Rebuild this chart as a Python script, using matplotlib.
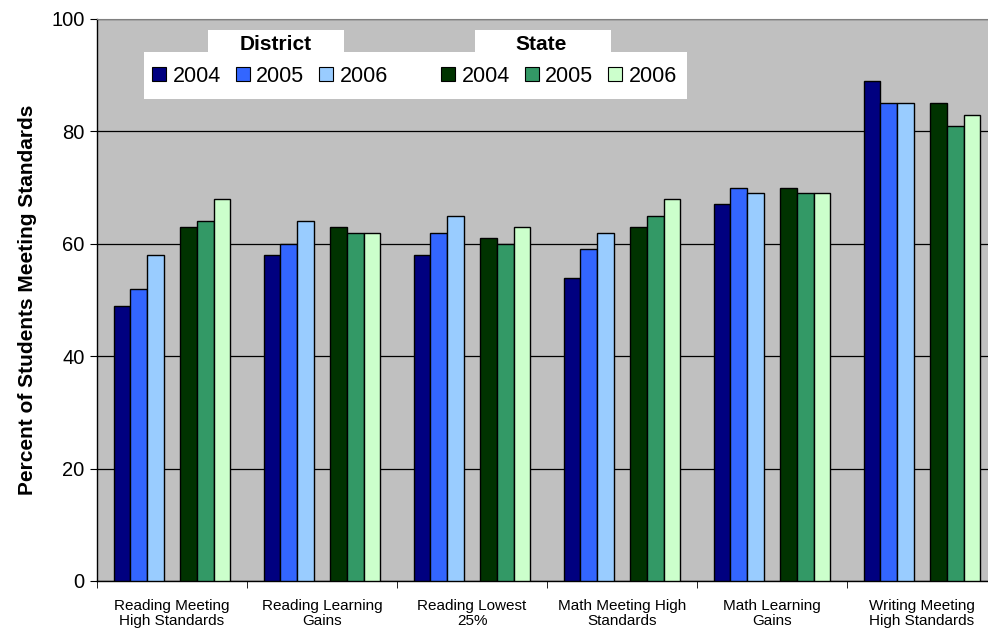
import matplotlib
matplotlib.use('Agg')
import matplotlib.pyplot as plt
from matplotlib.patches import Rectangle, Patch
import numpy as np

plt.rcParams['font.family'] = ['Liberation Sans', 'DejaVu Sans']

CATEGORIES = ['Reading Meeting\nHigh Standards', 'Reading Learning\nGains',
              'Reading Lowest\n25%', 'Math Meeting High\nStandards',
              'Math Learning\nGains', 'Writing Meeting\nHigh Standards']
YEARS = ['2004', '2005', '2006']

DISTRICT = {
    '2004': [49, 58, 58, 54, 67, 89],
    '2005': [52, 60, 62, 59, 70, 85],
    '2006': [58, 64, 65, 62, 69, 85],
}
STATE = {
    '2004': [63, 63, 61, 63, 70, 85],
    '2005': [64, 62, 60, 65, 69, 81],
    '2006': [68, 62, 63, 68, 69, 83],
}

DISTRICT_COLORS = ['#000080', '#3366FF', '#99CCFF']
STATE_COLORS = ['#003300', '#339966', '#CCFFCC']


def main():
    fig = plt.figure(figsize=(9.88, 6.32), dpi=100)
    ax = fig.add_axes([97 / 988, 51 / 632, 900 / 988, 562 / 632])
    ax.set_facecolor('#C0C0C0')

    x = np.arange(len(CATEGORIES))
    w = 1 / 9
    d_off = [1.5, 2.5, 3.5]
    s_off = [5.5, 6.5, 7.5]
    for k, yr in enumerate(YEARS):
        ax.bar(x + d_off[k] * w, DISTRICT[yr], w, color=DISTRICT_COLORS[k],
               edgecolor='black', linewidth=1, zorder=3)
        ax.bar(x + s_off[k] * w, STATE[yr], w, color=STATE_COLORS[k],
               edgecolor='black', linewidth=1, zorder=3)

    ax.set_xlim(0, len(CATEGORIES))
    ax.set_ylim(0, 100)
    ax.set_yticks(range(0, 101, 20))
    ax.tick_params(axis='y', labelsize=14.5, length=5, direction='out', pad=4)
    ax.yaxis.grid(True, color='black', linewidth=0.9, zorder=1)
    ax.set_axisbelow(True)

    ax.set_xticks(np.arange(len(CATEGORIES) + 1), minor=True)
    ax.set_xticks(x + 0.5)
    ax.set_xticklabels(CATEGORIES, fontsize=11, linespacing=1.1)
    ax.tick_params(axis='x', which='major', length=0, pad=13)
    ax.tick_params(axis='x', which='minor', length=5, direction='out')

    for side in ['left', 'bottom']:
        ax.spines[side].set_color('black')
        ax.spines[side].set_linewidth(1)
    ax.spines['top'].set_color('#808080')
    ax.spines['right'].set_visible(False)

    ax.set_ylabel('Percent of Students Meeting Standards', fontsize=15,
                  fontweight='bold', labelpad=10)

    # white legend panel with the two group headers
    W, H = 988, 632
    def box(x0, y0, x1, y1):
        fig.patches.append(Rectangle((x0 / W, 1 - y1 / H), (x1 - x0) / W,
                                     (y1 - y0) / H, transform=fig.transFigure,
                                     facecolor='white', edgecolor='none',
                                     zorder=5))
    box(144, 52, 687, 99)
    box(208, 30, 344, 53)
    box(475, 30, 611, 53)
    fig.text(276 / W, 1 - 44 / H, 'District', ha='center', va='center',
             fontsize=15, fontweight='bold', zorder=6)
    fig.text(541 / W, 1 - 44 / H, 'State', ha='center', va='center',
             fontsize=15, fontweight='bold', zorder=6)

    d_handles = [Patch(facecolor=c, edgecolor='black', linewidth=0.8)
                 for c in DISTRICT_COLORS]
    s_handles = [Patch(facecolor=c, edgecolor='black', linewidth=0.8)
                 for c in STATE_COLORS]
    kw = dict(ncol=3, frameon=False, fontsize=15.5, handlelength=0.65,
              handleheight=0.65, handletextpad=0.3, columnspacing=0.7,
              borderaxespad=0, borderpad=0, loc='center left')
    leg1 = fig.legend(d_handles, YEARS, bbox_to_anchor=(152 / W, 1 - 76 / H), **kw)
    leg2 = fig.legend(s_handles, YEARS, bbox_to_anchor=(441 / W, 1 - 76 / H), **kw)
    leg1.set_zorder(7)
    leg2.set_zorder(7)

    fig.savefig('out.png', dpi=100)
    plt.close(fig)


if __name__ == '__main__':
    main()
